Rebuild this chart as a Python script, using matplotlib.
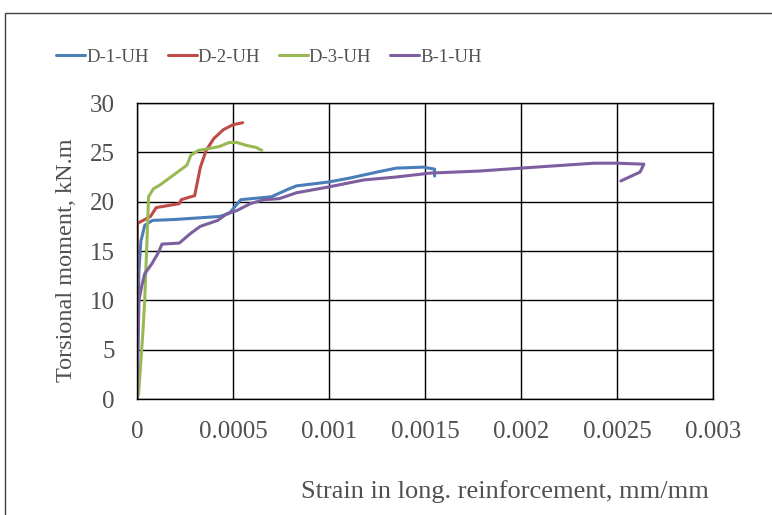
import matplotlib.pyplot as plt
from matplotlib.patches import Rectangle

plt.rcParams['font.family'] = ['Liberation Serif', 'DejaVu Serif']

# D-1-UH
d1_strain = [0, 0.000005, 0.00001, 0.00002, 0.00004, 0.00008, 0.0002, 0.00043, 0.00048,
             0.00054, 0.0007, 0.00078, 0.00083, 0.001, 0.00111, 0.00125, 0.00135, 0.00149,
             0.00155, 0.00155]
d1_torque = [0, 8, 13, 16, 17.6, 18.1, 18.2, 18.5, 18.8,
             20.2, 20.5, 21.2, 21.6, 22.0, 22.4, 23.0, 23.4, 23.5,
             23.3, 22.6]

# D-2-UH
d2_strain = [0, 0, 0.000002, 0.00007, 0.0001, 0.00022, 0.00023, 0.00028, 0.0003,
             0.00033, 0.00036, 0.0004, 0.00045, 0.0005, 0.00055]
d2_torque = [0, 11.5, 17.8, 18.5, 19.4, 19.8, 20.2, 20.5, 20.6,
             23.5, 25.2, 26.4, 27.3, 27.8, 28.0]

# D-3-UH
d3_strain = [0, 0.000008, 0.00003, 0.00004, 0.00005, 0.00006, 0.000085, 0.00012, 0.00019,
             0.00026, 0.00028, 0.00032, 0.00038, 0.00043, 0.00048, 0.00052, 0.00057,
             0.00062, 0.00065]
d3_torque = [0, 0.5, 6.6, 10, 15.1, 20.5, 21.3, 21.7, 22.7,
             23.7, 24.7, 25.2, 25.4, 25.6, 26.0, 26.0, 25.7,
             25.5, 25.2]

# B-1-UH
b1_strain = [0, 0.000005, 0.00001, 0.000024, 0.00004, 0.000077, 0.00011, 0.00013, 0.00022,
             0.00028, 0.00033, 0.00042, 0.00047, 0.00052, 0.00059, 0.00066, 0.00074,
             0.00083, 0.001, 0.00118, 0.00135, 0.00153, 0.00178, 0.002, 0.00238, 0.0025,
             0.00264, 0.00262, 0.00252]
b1_torque = [0, 5, 10, 11.4, 12.7, 13.7, 14.8, 15.7, 15.8,
             16.8, 17.5, 18.1, 18.8, 19.1, 19.8, 20.2, 20.3,
             20.9, 21.5, 22.2, 22.5, 22.9, 23.1, 23.4, 23.9, 23.9,
             23.8, 23.0, 22.1]

labels = ["D-1-UH", "D-2-UH", "D-3-UH", "B-1-UH"]
colors = ["#4A7EBB", "#BE4B48", "#98B954", "#7D5FA0"]
xticks = [0, 0.0005, 0.001, 0.0015, 0.002, 0.0025, 0.003]
xticklabels = ["0", "0.0005", "0.001", "0.0015", "0.002", "0.0025", "0.003"]
yticks = [0, 5, 10, 15, 20, 25, 30]

txt = '#505050'

fig = plt.figure(figsize=(7.72, 5.15), dpi=100)
ax = fig.add_axes([0.1775, 0.2252, 0.7461, 0.5748])

series = [(d1_strain, d1_torque), (d2_strain, d2_torque),
          (d3_strain, d3_torque), (b1_strain, b1_torque)]
for (xs, ys), lab, c in zip(series, labels, colors):
    ax.plot(xs, ys, color=c, lw=2.2, label=lab, solid_capstyle='round')

ax.set_xlim(0, 0.003)
ax.set_ylim(0, 30)
ax.set_xticks(xticks)
ax.set_xticklabels(xticklabels)
ax.set_yticks(yticks)
ax.grid(True, color='black', lw=1.0)
ax.set_axisbelow(True)
for s in ax.spines.values():
    s.set_color('black')
    s.set_linewidth(1.0)
ax.tick_params(length=0, labelsize=18, labelcolor=txt)
ax.tick_params(axis='x', pad=16)
ax.tick_params(axis='y', pad=16)

fig.text(67 / 772, 1 - 260 / 515, "Torsional moment, kN.m", rotation=90,
         fontsize=17.5, color=txt, ha='center', va='center')
fig.text(505 / 772, 1 - 492 / 515, "Strain in long. reinforcement, mm/mm",
         fontsize=19, color=txt, ha='center', va='center')

fig.legend(loc='center', bbox_to_anchor=(269 / 772, 1 - 57 / 515), ncol=4,
           frameon=False, fontsize=13.5, handlelength=1.55, handletextpad=0.05,
           columnspacing=1.0, labelcolor=txt)

fig.patches.append(Rectangle((5 / 772, -0.1), 1.2, 1.1 - 13 / 515,
                             transform=fig.transFigure, fill=False,
                             edgecolor='#404040', lw=1.0))

fig.savefig("out.png", dpi=100)
